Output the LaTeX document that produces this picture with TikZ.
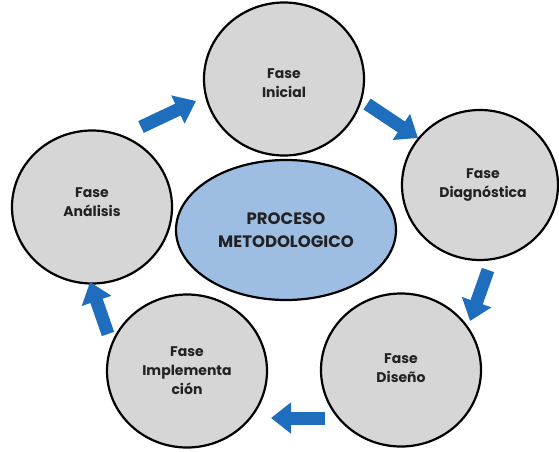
\documentclass[tikz,border=0pt]{standalone}
\usepackage{fontspec}
\setmainfont{Poppins}
\usetikzlibrary{arrows.meta,shapes.geometric}
\definecolor{phasegray}{HTML}{D6D6D6}
\definecolor{coreblue}{HTML}{9DBDE2}
\definecolor{arrowblue}{HTML}{1F6EBE}
\definecolor{inkdark}{HTML}{222222}
\begin{document}
\begin{tikzpicture}[x=1pt,y=-1pt,
  phase/.style={ellipse,draw=black,line width=2.2pt,fill=phasegray,minimum width=160pt,minimum height=153pt,inner sep=0pt},
  phasetext/.style={align=center,font=\fontsize{14}{19}\selectfont\bfseries,text=inkdark},
  core/.style={ellipse,draw=black,line width=2.2pt,fill=coreblue,minimum width=220pt,minimum height=140pt,inner sep=0pt,
    align=center,font=\fontsize{16.5}{23}\selectfont\bfseries,text=inkdark},
  flow/.style={arrowblue,line width=13pt,-{Triangle[width=30pt,length=20pt]}}]
\useasboundingbox (0,0) rectangle (559,452);
\clip (0,0) rectangle (559,452);
\node[phase] (ini) at (284,79) {};
\node[phase,minimum width=156pt,minimum height=150pt] (dia) at (480,185) {};
\node[phase] (dis) at (401,370) {};
\node[phase] (imp) at (187,371) {};
\node[phase] (ana) at (92,207) {};
\node[core] (pm) at (286,230) {PROCESO\\METODOLOGICO};
\node[phasetext] (tini) at ([yshift=-4pt]ini.center) {Fase\\Inicial};
\node[phasetext] (tdia) at ([xshift=3pt]dia.center) {Fase\\Diagnóstica};
\node[phasetext] (tdis) at ([yshift=2pt]dis.center) {Fase\\Diseño};
\node[phasetext] (timp) at (imp.center) {Fase\\Implementa\\ción};
\node[phasetext] (tana) at ([yshift=5pt]ana.center) {Fase\\Análisis};
\coordinate (a1s) at (141,127); \coordinate (a1e) at (196,101);
\coordinate (a2s) at (367,104); \coordinate (a2e) at (418,138);
\coordinate (a3s) at (488,270); \coordinate (a3e) at (470,321);
\coordinate (a4s) at (325,418); \coordinate (a4e) at (271,418);
\coordinate (a5s) at (108,334); \coordinate (a5e) at (90,282);
\draw[flow] (a1s) -- (a1e);
\draw[flow] (a2s) -- (a2e);
\draw[flow] (a3s) -- (a3e);
\draw[flow] (a4s) -- (a4e);
\draw[flow] (a5s) -- (a5e);
\end{tikzpicture}
\end{document}
